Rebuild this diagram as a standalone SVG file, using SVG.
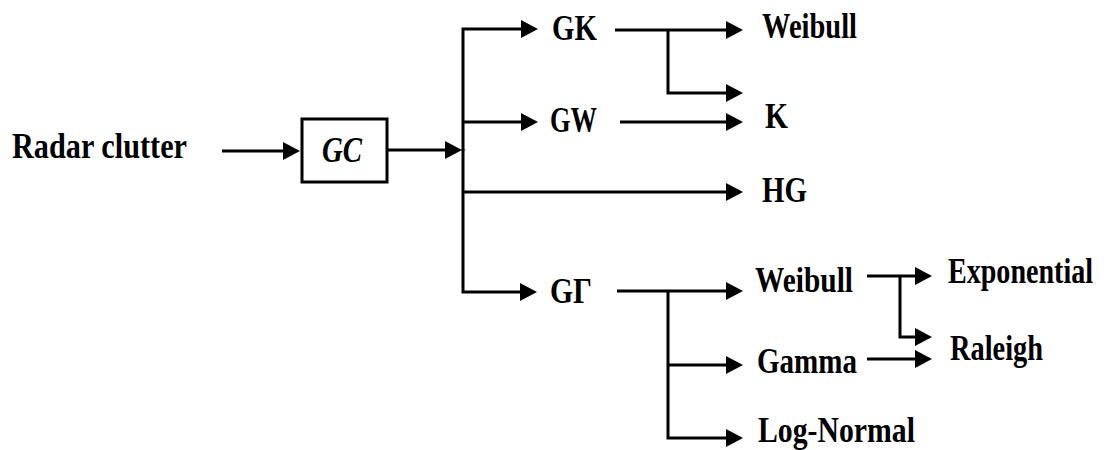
<svg xmlns="http://www.w3.org/2000/svg" width="1110" height="450" viewBox="0 0 1110 450">
<defs>
<marker id="ah" markerUnits="userSpaceOnUse" markerWidth="18" markerHeight="20" refX="8" refY="9" orient="auto">
<path d="M0,0 L17,9 L0,18 z" fill="#000"/>
</marker>
<style>
.t{font-family:"Liberation Serif","Times New Roman",serif;font-weight:bold;font-size:36px;fill:#000}
.c{fill:none;stroke:#000;stroke-width:3;stroke-linejoin:miter}
.a{marker-end:url(#ah)}
</style>
</defs>
<rect width="1110" height="450" fill="#fff"/>
<g id="connectors">
<line class="c a" x1="222" y1="151" x2="291" y2="151"/>
<line class="c a" x1="387" y1="150" x2="453" y2="150"/>
<path class="c a" d="M463,151 V29 H529"/>
<path class="c a" d="M463,149 V292 H528"/>
<line class="c a" x1="463" y1="122" x2="529" y2="122"/>
<line class="c a" x1="463" y1="192" x2="734" y2="192"/>
<line class="c a" x1="615" y1="30" x2="734" y2="30"/>
<path class="c a" d="M668,30 V93 H734"/>
<line class="c a" x1="620" y1="122" x2="734" y2="122"/>
<line class="c a" x1="617" y1="291" x2="734" y2="291"/>
<path class="c a" d="M668,291 V438 H734"/>
<line class="c a" x1="668" y1="365" x2="734" y2="365"/>
<line class="c a" x1="867" y1="276" x2="923" y2="276"/>
<path class="c a" d="M900,276 V337 H923"/>
<line class="c a" x1="867" y1="359" x2="923" y2="359"/>
</g>
<g id="radar"><text class="t" x="12" y="158" font-size="38" textLength="175" lengthAdjust="spacingAndGlyphs">Radar clutter</text></g>
<g id="gc"><rect x="302" y="119" width="85" height="63" fill="#fff" stroke="#000" stroke-width="3"/><text class="t" x="322" y="162" font-size="36" font-style="italic" textLength="40" lengthAdjust="spacingAndGlyphs">GC</text></g>
<g id="gk"><text class="t" x="552" y="40" textLength="45" lengthAdjust="spacingAndGlyphs">GK</text></g>
<g id="gw"><text class="t" x="550" y="132" textLength="47" lengthAdjust="spacingAndGlyphs">GW</text></g>
<g id="hg"><text class="t" x="762" y="202" textLength="45" lengthAdjust="spacingAndGlyphs">HG</text></g>
<g id="ggamma"><text class="t" x="550" y="303" textLength="42" lengthAdjust="spacingAndGlyphs">GΓ</text></g>
<g id="weibull1"><text class="t" x="762" y="38" textLength="95" lengthAdjust="spacingAndGlyphs">Weibull</text></g>
<g id="k"><text class="t" x="765" y="128" textLength="23" lengthAdjust="spacingAndGlyphs">K</text></g>
<g id="weibull2"><text class="t" x="755" y="292" textLength="98" lengthAdjust="spacingAndGlyphs">Weibull</text></g>
<g id="gamma"><text class="t" x="757" y="373" textLength="100" lengthAdjust="spacingAndGlyphs">Gamma</text></g>
<g id="lognormal"><text class="t" x="758" y="442" textLength="157" lengthAdjust="spacingAndGlyphs">Log-Normal</text></g>
<g id="exponential"><text class="t" transform="translate(948,283) scale(0.78,1)" x="0" y="0">Exponential</text></g>
<g id="raleigh"><text class="t" x="950" y="360" textLength="93" lengthAdjust="spacingAndGlyphs">Raleigh</text></g>
</svg>
